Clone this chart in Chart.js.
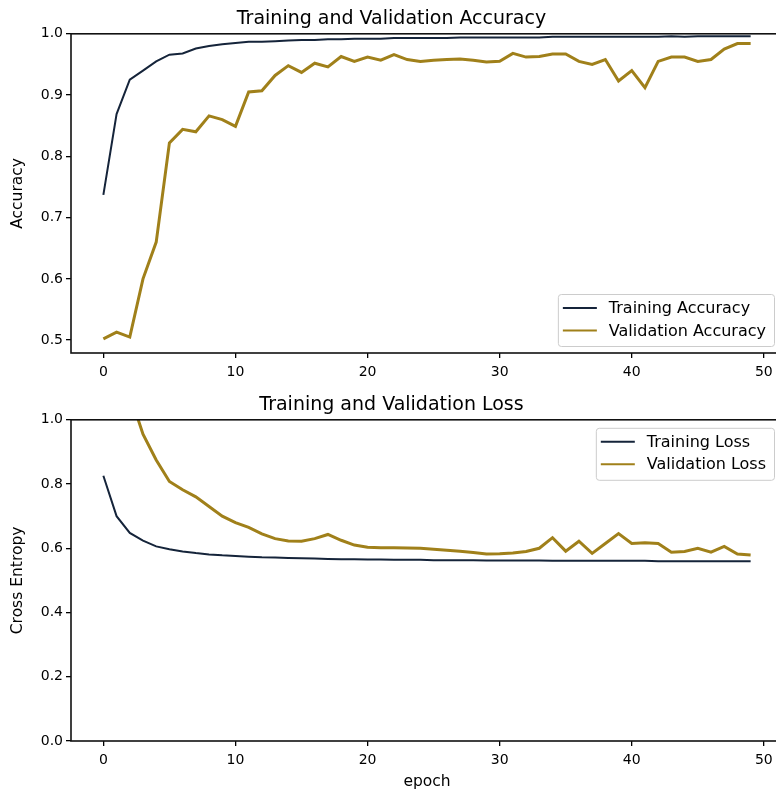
<!DOCTYPE html>
<html>
<head>
<meta charset="utf-8">
<script src="https://cdn.jsdelivr.net/npm/chart.js@4.4.0/dist/chart.umd.min.js"></script>
<style>
  html, body { margin: 0; padding: 0; background: #fff; width: 776px; height: 792px; overflow: hidden; }
  canvas { position: absolute; left: 0; }
  #acc { top: 0; }
  #loss { top: 386px; }
</style>
</head>
<body>
<canvas id="acc" width="855" height="386"></canvas>
<canvas id="loss" width="855" height="406"></canvas>
<script>
const epochs = Array.from({ length: 50 }, (_, i) => i);

const trainAcc = [0.737, 0.869, 0.925, 0.940, 0.955, 0.966, 0.968, 0.976, 0.980, 0.983,
  0.985, 0.987, 0.987, 0.988, 0.989, 0.990, 0.990, 0.991, 0.991, 0.992,
  0.992, 0.992, 0.993, 0.993, 0.993, 0.993, 0.993, 0.994, 0.994, 0.994,
  0.994, 0.994, 0.994, 0.994, 0.995, 0.995, 0.995, 0.995, 0.995, 0.995,
  0.995, 0.995, 0.995, 0.996, 0.995, 0.996, 0.996, 0.996, 0.996, 0.996];
const valAcc = [0.502, 0.513, 0.505, 0.600, 0.660, 0.822, 0.844, 0.840, 0.866, 0.860,
  0.849, 0.905, 0.907, 0.932, 0.948, 0.937, 0.952, 0.946, 0.963, 0.955,
  0.962, 0.957, 0.966, 0.958, 0.955, 0.957, 0.958, 0.959, 0.957, 0.954,
  0.955, 0.968, 0.962, 0.963, 0.967, 0.967, 0.955, 0.950, 0.958, 0.923,
  0.940, 0.912, 0.955, 0.962, 0.962, 0.955, 0.958, 0.975, 0.984, 0.984];

const trainLoss = [0.826, 0.700, 0.648, 0.624, 0.606, 0.597, 0.590, 0.585, 0.581, 0.578,
  0.576, 0.574, 0.572, 0.571, 0.570, 0.569, 0.568, 0.567, 0.566, 0.566,
  0.565, 0.565, 0.564, 0.564, 0.564, 0.563, 0.563, 0.563, 0.563, 0.562,
  0.562, 0.562, 0.562, 0.562, 0.561, 0.561, 0.561, 0.561, 0.561, 0.561,
  0.561, 0.561, 0.560, 0.560, 0.560, 0.560, 0.560, 0.560, 0.560, 0.560];
// epochs 0-1 lie above the plotted range, not readable
const valLoss = [null, null, 1.08, 0.955, 0.875, 0.808, 0.782, 0.760, 0.730, 0.700,
  0.680, 0.665, 0.645, 0.630, 0.623, 0.622, 0.630, 0.643, 0.625, 0.610,
  0.603, 0.602, 0.602, 0.601, 0.600, 0.597, 0.594, 0.591, 0.587, 0.582,
  0.583, 0.585, 0.590, 0.600, 0.633, 0.591, 0.622, 0.584, 0.615, 0.646,
  0.615, 0.617, 0.615, 0.588, 0.590, 0.600, 0.588, 0.606, 0.582, 0.579];

const xTicks = [0, 10, 20, 30, 40, 50];
const accTicks = [0.5, 0.6, 0.7, 0.8, 0.9, 1.0];
const lossTicks = [0.0, 0.2, 0.4, 0.6, 0.8, 1.0];

const navy = '#15243a';
const gold = '#a0801a';
const font = 'DejaVu Sans';

function pts(vals) {
  return epochs.map((e, i) => ({ x: e, y: vals[i] }));
}

// matplotlib style box around the axes
const framePlugin = {
  id: 'frame',
  afterDraw(chart) {
    const a = chart.chartArea, ctx = chart.ctx;
    ctx.save();
    ctx.strokeStyle = '#111';
    ctx.lineWidth = 1.6;
    ctx.strokeRect(a.left, a.top, a.right - a.left, a.bottom - a.top);
    ctx.restore();
  }
};

// legend inside the axes
const boxLegend = {
  id: 'boxLegend',
  afterDraw(chart, args, opts) {
    const a = chart.chartArea, ctx = chart.ctx;
    const sets = chart.data.datasets;
    ctx.save();
    ctx.font = '16px "' + font + '"';
    let tw = 0;
    sets.forEach(d => { tw = Math.max(tw, ctx.measureText(d.label).width); });
    const w = 5 + 34 + 12 + tw + 8;
    const h = 52;
    const x = a.right - 9 - w;
    const y = opts.corner === 'bottom' ? a.bottom - 7 - h : a.top + 8;
    ctx.fillStyle = 'rgba(255,255,255,0.85)';
    ctx.strokeStyle = '#cccccc';
    ctx.lineWidth = 1;
    ctx.beginPath();
    ctx.roundRect(x + 0.5, y + 0.5, w, h, 3);
    ctx.fill();
    ctx.stroke();
    sets.forEach((d, i) => {
      const cy = y + 14 + i * 22.5;
      ctx.strokeStyle = d.borderColor;
      ctx.lineWidth = 2;
      ctx.beginPath();
      ctx.moveTo(x + 5, cy);
      ctx.lineTo(x + 39, cy);
      ctx.stroke();
      ctx.fillStyle = '#000';
      ctx.textBaseline = 'middle';
      ctx.fillText(d.label, x + 51, cy + 1);
    });
    ctx.restore();
  }
};

function makeChart(id, title, yLabel, series, yMin, yTicks, legendCorner, xLabel, xHeight) {
  return new Chart(document.getElementById(id), {
    type: 'line',
    data: {
      datasets: series.map(s => ({
        label: s.label,
        data: pts(s.values),
        borderColor: s.color,
        borderWidth: s.width,
        pointRadius: 0,
        tension: 0,
        spanGaps: false
      }))
    },
    options: {
      responsive: false,
      animation: false,
      devicePixelRatio: 1,
      layout: { padding: { left: 0, right: 72, top: 0, bottom: 0 } },
      plugins: {
        legend: { display: false },
        tooltip: { enabled: false },
        title: {
          display: true,
          text: title,
          color: '#000',
          font: { family: font, size: 19, weight: 'normal' },
          padding: { top: 8, bottom: 3 }
        },
        boxLegend: { corner: legendCorner }
      },
      scales: {
        x: {
          type: 'linear',
          min: -2.45,
          max: 51.45,
          afterBuildTicks: sc => { sc.ticks = xTicks.map(v => ({ value: v })); },
          afterFit: sc => { sc.height = xHeight; },
          grid: { drawOnChartArea: false, drawTicks: true, tickLength: 5, color: '#000', lineWidth: 1.3 },
          border: { display: false },
          ticks: { color: '#000', padding: 6, maxRotation: 0, font: { family: font, size: 14 } },
          title: {
            display: !!xLabel,
            text: xLabel || '',
            color: '#000',
            font: { family: font, size: 15.5 },
            padding: { top: 0, bottom: 1 }
          }
        },
        y: {
          min: yMin,
          max: 1.0,
          afterBuildTicks: sc => { sc.ticks = yTicks.map(v => ({ value: v })); },
          afterFit: sc => { sc.width = 71; },
          grid: { drawOnChartArea: false, drawTicks: true, tickLength: 5, color: '#000', lineWidth: 1.3 },
          border: { display: false },
          ticks: { color: '#000', padding: 3, font: { family: font, size: 14 }, callback: v => v.toFixed(1) },
          title: {
            display: true,
            text: yLabel,
            color: '#000',
            font: { family: font, size: 15.5 },
            padding: { top: 9, bottom: 0 }
          }
        }
      }
    },
    plugins: [framePlugin, boxLegend]
  });
}

makeChart('acc', 'Training and Validation Accuracy', 'Accuracy', [
  { label: 'Training Accuracy', values: trainAcc, color: navy, width: 2 },
  { label: 'Validation Accuracy', values: valAcc, color: gold, width: 3 }
], 0.479, accTicks, 'bottom', null, 33);

makeChart('loss', 'Training and Validation Loss', 'Cross Entropy', [
  { label: 'Training Loss', values: trainLoss, color: navy, width: 2 },
  { label: 'Validation Loss', values: valLoss, color: gold, width: 3 }
], 0.0, lossTicks, 'top', 'epoch', 51);
</script>
</body>
</html>
